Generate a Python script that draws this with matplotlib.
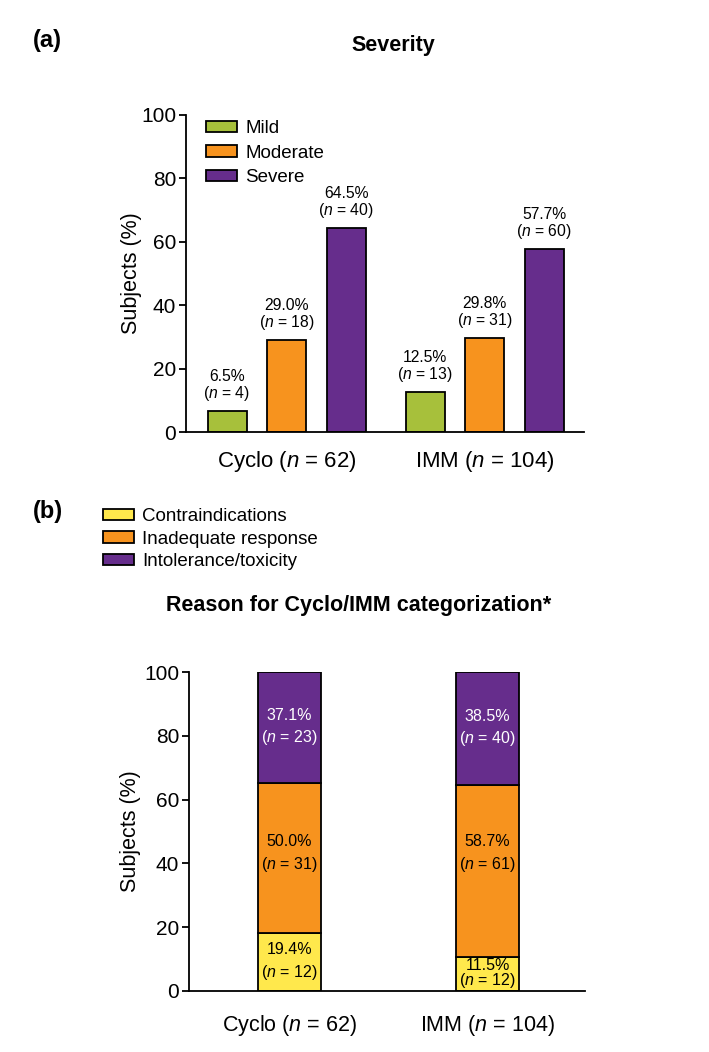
import matplotlib
matplotlib.use("Agg")
import matplotlib.pyplot as plt
from matplotlib.patches import Patch

plt.rcParams['font.family'] = ['Liberation Sans', 'DejaVu Sans']
plt.rcParams['mathtext.fontset'] = 'custom'
plt.rcParams['mathtext.rm'] = 'Liberation Sans'
plt.rcParams['mathtext.it'] = 'Liberation Sans:italic'

# data
groups = ['Cyclo', 'IMM']
group_n = [62, 104]

sev_names = ['Mild', 'Moderate', 'Severe']
sev_pct = [[6.5, 29.0, 64.5], [12.5, 29.8, 57.7]]
sev_n = [[4, 18, 40], [13, 31, 60]]

rsn_names = ['Contraindications', 'Inadequate response', 'Intolerance/toxicity']
rsn_pct = [[19.4, 50.0, 37.1], [11.5, 58.7, 38.5]]
rsn_n = [[12, 31, 23], [12, 61, 40]]

sev_colors = ['#A7C03B', '#F7931E', '#662D8C']
rsn_colors = ['#FFE84C', '#F7931E', '#662D8C']

W, H = 709, 1052
fig = plt.figure(figsize=(W / 100, H / 100), dpi=100)

def px_axes(l, r, t, b):
    return fig.add_axes([l / W, 1 - b / H, (r - l) / W, (b - t) / H])

def style(ax, pad, xsize):
    for s in ['top', 'right']:
        ax.spines[s].set_visible(False)
    for s in ['left', 'bottom']:
        ax.spines[s].set_linewidth(1.3)
    ax.set_ylim(0, 100)
    ax.set_yticks([0, 20, 40, 60, 80, 100])
    ax.tick_params(axis='y', labelsize=15, width=1.3, length=5, pad=2)
    ax.tick_params(axis='x', labelsize=xsize, length=0, pad=pad)
    ax.set_xticks([0, 1])
    ax.set_xticklabels([f'{g} ($\\it{{n}}$ = {n})' for g, n in zip(groups, group_n)])

def lab(p, n):
    return f'{p:.1f}%\n($\\it{{n}}$ = {n})'

# (a) severity
ax1 = px_axes(186, 584, 115, 432)
off = 0.3005
bw = 0.197
for gi in range(2):
    for k in range(3):
        x = gi + (k - 1) * off
        ax1.bar(x, sev_pct[gi][k], width=bw, color=sev_colors[k],
                edgecolor='black', linewidth=1.3)
        ax1.text(x, sev_pct[gi][k] + 2.5, lab(sev_pct[gi][k], sev_n[gi][k]),
                 ha='center', va='bottom', fontsize=11.3, linespacing=1.0)
ax1.set_xlim(-0.5076, 1.5025)
style(ax1, 12, 16)
ax1.set_ylabel('Subjects (%)', fontsize=15.5)
ax1.yaxis.set_label_coords(-0.11, 0.5)

h1 = [Patch(facecolor=c, edgecolor='black', linewidth=1.3) for c in sev_colors]
fig.legend(h1, sev_names, loc='upper left', bbox_to_anchor=(206 / W, 1 - 120 / H),
           frameon=False, fontsize=13.5, handlelength=1.65, handleheight=0.55,
           handletextpad=0.45, labelspacing=0.4, borderpad=0, borderaxespad=0)

fig.text(393 / W, 1 - 45 / H, 'Severity', ha='center', va='center',
         fontsize=15.5, fontweight='bold')
fig.text(33 / W, 1 - 40 / H, '(a)', ha='left', va='center',
         fontsize=17, fontweight='bold')

# (b) reasons, segments scaled to fill 100%
ax2 = px_axes(189, 585, 672, 991)
bw2 = 0.318
for gi in range(2):
    tot = sum(rsn_pct[gi])
    bottom = 0
    for k in range(3):
        h = rsn_pct[gi][k] / tot * 100
        ax2.bar(gi, h, bottom=bottom, width=bw2, color=rsn_colors[k],
                edgecolor='black', linewidth=1.3)
        if k == 1:
            ty = 43
        else:
            ty = bottom + h / 2
        ls = 0.85 if h < 15 else 1.4
        ax2.text(gi, ty, lab(rsn_pct[gi][k], rsn_n[gi][k]), ha='center', va='center',
                 fontsize=11.5, linespacing=ls,
                 color='white' if k == 2 else 'black')
        bottom += h
ax2.set_xlim(-0.5076, 1.4924)
style(ax2, 16, 15.5)
ax2.set_ylabel('Subjects (%)', fontsize=15.5)
ax2.yaxis.set_label_coords(-0.12, 0.5)

h2 = [Patch(facecolor=c, edgecolor='black', linewidth=1.3) for c in rsn_colors]
fig.legend(h2, rsn_names, loc='upper left', bbox_to_anchor=(103 / W, 1 - 508 / H),
           frameon=False, fontsize=13.5, handlelength=1.65, handleheight=0.55,
           handletextpad=0.45, labelspacing=0.3, borderpad=0, borderaxespad=0)

fig.text(359 / W, 1 - 605 / H, 'Reason for Cyclo/IMM categorization*', ha='center',
         va='center', fontsize=15.5, fontweight='bold')
fig.text(33 / W, 1 - 512 / H, '(b)', ha='left', va='center',
         fontsize=17, fontweight='bold')

fig.savefig('out.png', dpi=100)
